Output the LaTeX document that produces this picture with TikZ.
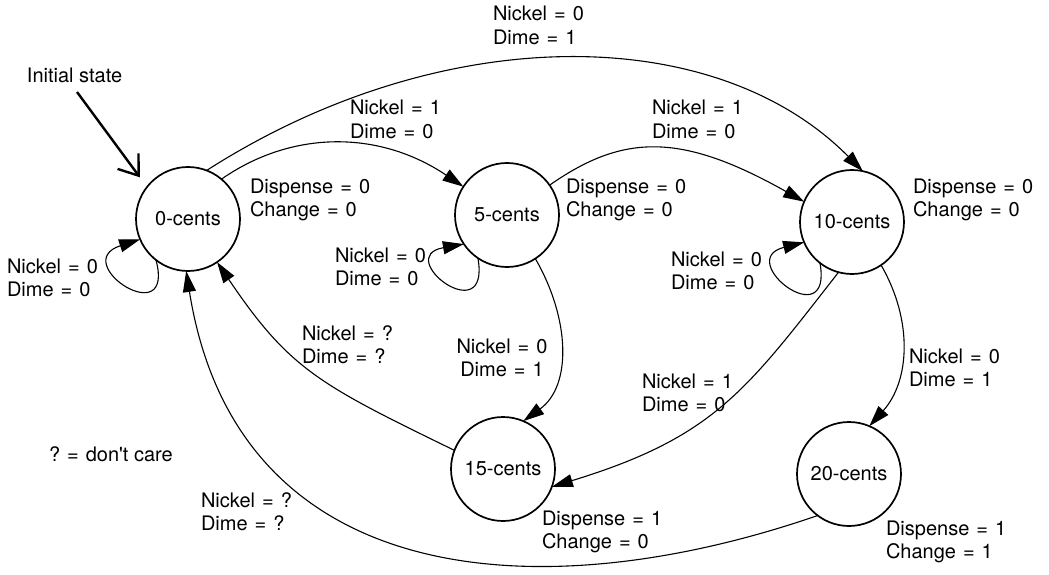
\documentclass[tikz,border=0pt]{standalone}
\usepackage{fontspec}
\setmainfont{TeX Gyre Heros}
\usetikzlibrary{arrows.meta}
\newcommand{\eqs}{\hspace{0.35em}=\hspace{0.35em}}
\newcommand{\twol}[2]{\begin{tabular}[t]{@{}l@{}}#1\\#2\end{tabular}}
\newcommand{\twoc}[2]{\begin{tabular}[t]{@{}c@{}}#1\\#2\end{tabular}}
\begin{document}
\begin{tikzpicture}[x=1pt,y=1pt,
  every node/.style={font=\fontsize{20}{23.5}\selectfont},
  state/.style={circle,draw,line width=1.7pt,minimum size=104pt,inner sep=0pt,outer sep=0pt},
  lab/.style={anchor=base west,inner sep=0pt,outer sep=0pt},
  labc/.style={anchor=base,inner sep=0pt,outer sep=0pt},
  edge/.style={line width=1.1pt,-{Triangle[length=21pt,width=13pt]}},
  initarrow/.style={line width=2.4pt,-{Straight Barb[length=18pt,width=26pt]},shorten >=12pt}
  ]
\useasboundingbox (0,0) rectangle (1049,574);
% states
\node[state] (c0) at (188,355) {0-cents};
\node[state] (c5) at (507,359) {5-cents};
\node[state] (c10) at (852,352) {10-cents};
\node[state] (c15) at (503,105) {15-cents};
\node[state] (c20) at (849,100) {20-cents};
% labels
\node[lab] (linit) at (27,491) {Initial state};
\node[lab] (l010) at (493,553) {\twol{Nickel\eqs 0}{Dime\eqs 1}};
\node[lab] (l05) at (350,459) {\twol{Nickel\eqs 1}{Dime\eqs 0}};
\node[lab] (l510) at (652,459) {\twol{Nickel\eqs 1}{Dime\eqs 0}};
\node[lab] (o0) at (250,381) {\twol{Dispense\eqs 0}{Change\eqs 0}};
\node[lab] (o5) at (566,381) {\twol{Dispense\eqs 0}{Change\eqs 0}};
\node[lab] (o10) at (913,381) {\twol{Dispense\eqs 0}{Change\eqs 0}};
\node[lab] (lp0) at (7,301) {\twol{Nickel\eqs 0}{Dime\eqs 0}};
\node[lab] (lp5) at (335,312) {\twol{Nickel\eqs 0}{Dime\eqs 0}};
\node[lab] (lp10) at (671,308) {\twol{Nickel\eqs 0}{Dime\eqs 0}};
\node[lab] (l150) at (302,234) {\twol{Nickel\eqs ?}{Dime\eqs ?}};
\node[labc] (l515) at (502,221) {\twoc{Nickel\eqs 0}{Dime\eqs 1}};
\node[lab] (l1015) at (642,186) {\twol{Nickel\eqs 1}{Dime\eqs 0}};
\node[lab] (l1020) at (909,211) {\twol{Nickel\eqs 0}{Dime\eqs 1}};
\node[lab] (o15) at (542,49) {\twol{Dispense\eqs 1}{Change\eqs 0}};
\node[lab] (o20) at (886,39) {\twol{Dispense\eqs 1}{Change\eqs 1}};
\node[lab] (care) at (49,113) {?\eqs don\textquotesingle t care};
\node[lab] (l200) at (201,67) {\twol{Nickel\eqs ?}{Dime\eqs ?}};
% initial arrow
\coordinate (initstart) at (77,482);
\draw[initarrow] (initstart) -- (c0.142);
% transitions
\draw[edge] (c0.69) .. controls (440,553) and (714,553) .. (c10.78);
\draw[edge] (c0.50) .. controls (292,444) and (379,444) .. (c5.147);
\draw[edge] (c5.35) .. controls (624,441) and (682,441) .. (c10.157);
\draw[edge] (c5.303) .. controls +(-60:70pt) and +(36:60pt) .. (c15.67);
\draw[edge] (c10.304) .. controls +(-60:65pt) and +(48:60pt) .. (c20.67);
\draw[edge] (c10.255) .. controls +(232:150pt) and +(17:170pt) .. (c15.340);
\draw[edge] (c15.159) .. controls +(154:150pt) and +(304:130pt) .. (c0.304);
\draw[edge] (c20.233) .. controls +(199:300pt) and +(279:320pt) .. (c0.268);
% self loops
\draw[edge] (c0.232) .. controls +(285:76pt) and +(198:76pt) .. (c0.203);
\draw[edge] (c5.236) .. controls +(280:75pt) and +(190:73pt) .. (c5.214);
\draw[edge] (c10.232) .. controls +(280:75pt) and +(194:73pt) .. (c10.203);
\end{tikzpicture}
\end{document}
